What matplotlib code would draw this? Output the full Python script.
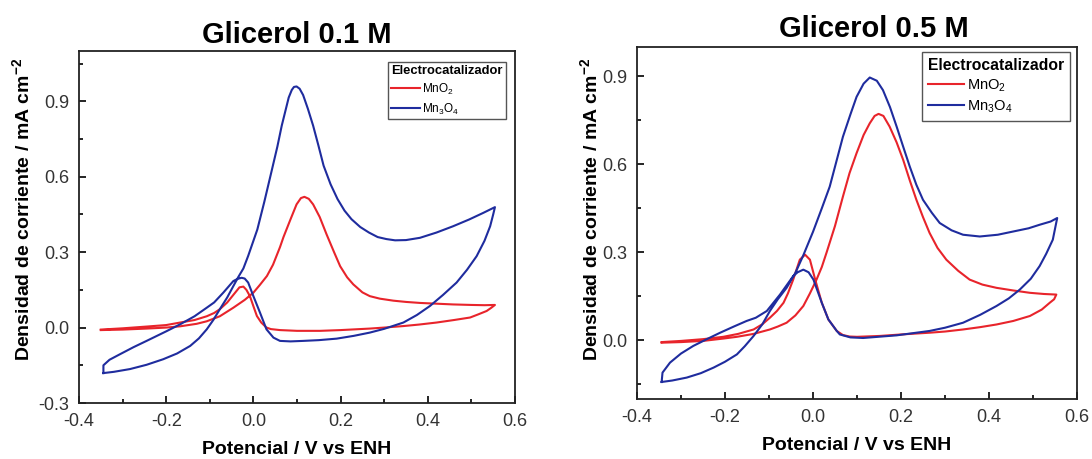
import matplotlib
matplotlib.use("Agg")
import matplotlib.pyplot as plt
from matplotlib.ticker import MultipleLocator

plt.rcParams['font.family'] = ['Liberation Sans', 'DejaVu Sans']
plt.rcParams['mathtext.fontset'] = 'custom'
plt.rcParams['mathtext.rm'] = 'Liberation Sans'
plt.rcParams['mathtext.bf'] = 'Liberation Sans:bold'

# ---- Glicerol 0.1 M ----
# MnO2 (forward then reverse scan)
x_mno2_01 = [-0.35, -0.30, -0.245, -0.20, -0.168, -0.13, -0.107, -0.077, -0.046, -0.02, 0.0, 0.015,
             0.031, 0.045, 0.061, 0.069, 0.085, 0.099, 0.109, 0.117, 0.127, 0.137, 0.152, 0.168,
             0.185, 0.199, 0.215, 0.229, 0.25, 0.267, 0.29, 0.321, 0.35, 0.382, 0.42, 0.458, 0.5,
             0.53, 0.554,
             0.545, 0.535, 0.515, 0.497, 0.46, 0.42, 0.38, 0.344, 0.3, 0.267, 0.2, 0.153, 0.1, 0.061,
             0.04, 0.03, 0.018, 0.008, 0.0, -0.008, -0.016, -0.023, -0.032, -0.046, -0.06, -0.077,
             -0.09, -0.107, -0.135, -0.168, -0.2, -0.245, -0.3, -0.35]
y_mno2_01 = [-0.01, -0.008, -0.004, 0.0, 0.005, 0.015, 0.025, 0.045, 0.079, 0.11, 0.139, 0.17,
             0.205, 0.25, 0.32, 0.36, 0.43, 0.49, 0.515, 0.52, 0.512, 0.49, 0.44, 0.37,
             0.30, 0.244, 0.2, 0.172, 0.14, 0.125, 0.115, 0.107, 0.102, 0.098, 0.095, 0.092, 0.09,
             0.089, 0.09,
             0.078, 0.066, 0.052, 0.04, 0.03, 0.02, 0.012, 0.006, 0.0, -0.004, -0.01, -0.013, -0.013, -0.01,
             -0.006, 0.0, 0.02, 0.046, 0.085, 0.125, 0.15, 0.163, 0.16, 0.13, 0.1, 0.073,
             0.058, 0.045, 0.03, 0.02, 0.01, 0.004, -0.003, -0.008]

# Mn3O4
x_mn3o4_01 = [-0.344, -0.32, -0.283, -0.245, -0.207, -0.175, -0.145, -0.125, -0.107, -0.092, -0.077,
              -0.06, -0.046, -0.035, -0.023, -0.012, 0.0, 0.009, 0.025, 0.041, 0.055, 0.065, 0.081,
              0.088, 0.093, 0.099, 0.106, 0.114, 0.125, 0.137, 0.149, 0.161, 0.177, 0.193, 0.209, 0.225, 0.245,
              0.265, 0.285, 0.305, 0.325, 0.35, 0.382, 0.42, 0.458, 0.495, 0.527, 0.554,
              0.55, 0.543, 0.53, 0.512, 0.49, 0.466, 0.435, 0.405, 0.375, 0.344, 0.3, 0.267, 0.23,
              0.191, 0.15, 0.114, 0.085, 0.061, 0.046, 0.03, 0.015, 0.0, -0.012, -0.02, -0.027,
              -0.036, -0.046, -0.069, -0.09, -0.107, -0.135, -0.168, -0.2, -0.245, -0.275, -0.306,
              -0.33, -0.344, -0.344]
y_mn3o4_01 = [-0.181, -0.176, -0.165, -0.148, -0.126, -0.103, -0.073, -0.043, -0.007, 0.03, 0.073,
              0.12, 0.165, 0.2, 0.235, 0.285, 0.345, 0.39, 0.5, 0.617, 0.72, 0.803, 0.915,
              0.945, 0.957, 0.959, 0.95, 0.925, 0.87, 0.803, 0.725, 0.644, 0.57, 0.511, 0.465, 0.431, 0.4,
              0.378, 0.36, 0.352, 0.347, 0.348, 0.357, 0.378, 0.403, 0.43, 0.456, 0.479,
              0.45, 0.403, 0.345, 0.284, 0.23, 0.179, 0.13, 0.086, 0.05, 0.02, -0.005, -0.02, -0.033,
              -0.044, -0.05, -0.053, -0.055, -0.053, -0.04, -0.007, 0.06, 0.125, 0.179, 0.195, 0.198,
              0.194, 0.185, 0.139, 0.1, 0.079, 0.045, 0.013, -0.015, -0.053, -0.078, -0.106,
              -0.128, -0.15, -0.181]

# ---- Glicerol 0.5 M ----
x_mno2_05 = [-0.344, -0.3, -0.25, -0.204, -0.173, -0.135, -0.098, -0.08, -0.06, -0.04, -0.022,
             -0.007, 0.008, 0.02, 0.031, 0.05, 0.068, 0.083, 0.099, 0.115, 0.129, 0.14, 0.149,
             0.16, 0.174, 0.19, 0.205, 0.22, 0.235, 0.25, 0.265, 0.283, 0.303, 0.33, 0.356, 0.385,
             0.417, 0.455, 0.493, 0.525, 0.553,
             0.548, 0.538, 0.52, 0.493, 0.455, 0.417, 0.38, 0.341, 0.3, 0.265, 0.2, 0.152, 0.1,
             0.083, 0.068, 0.054, 0.035, 0.02, 0.005, -0.007, -0.018, -0.03, -0.045, -0.057,
             -0.067, -0.082, -0.098, -0.115, -0.135, -0.17, -0.204, -0.25, -0.3, -0.344]
y_mno2_05 = [-0.008, -0.006, -0.002, 0.006, 0.012, 0.022, 0.037, 0.047, 0.06, 0.085, 0.117,
             0.16, 0.207, 0.25, 0.3, 0.39, 0.49, 0.57, 0.638, 0.70, 0.74, 0.765, 0.772,
             0.765, 0.729, 0.675, 0.615, 0.545, 0.479, 0.42, 0.366, 0.315, 0.275, 0.237, 0.207, 0.19,
             0.179, 0.17, 0.162, 0.158, 0.156,
             0.14, 0.128, 0.105, 0.083, 0.066, 0.054, 0.045, 0.037, 0.03, 0.026, 0.02, 0.015, 0.012,
             0.013, 0.018, 0.032, 0.071, 0.128, 0.207, 0.275, 0.292, 0.275, 0.207, 0.16,
             0.128, 0.1, 0.077, 0.055, 0.037, 0.022, 0.012, 0.004, -0.002, -0.006]

x_mn3o4_05 = [-0.344, -0.32, -0.287, -0.255, -0.226, -0.2, -0.173, -0.155, -0.135, -0.115, -0.098,
              -0.08, -0.06, -0.04, -0.022, 0.0, 0.02, 0.038, 0.068, 0.085, 0.099, 0.115, 0.129,
              0.145, 0.159, 0.175, 0.19, 0.205, 0.22, 0.235, 0.25, 0.27, 0.288, 0.315, 0.341,
              0.379, 0.42, 0.455, 0.49, 0.515, 0.54, 0.555,
              0.55, 0.545, 0.53, 0.515, 0.495, 0.47, 0.445, 0.417, 0.38, 0.341, 0.3, 0.265, 0.19,
              0.114, 0.085, 0.061, 0.054, 0.035, 0.02, 0.001, -0.01, -0.022, -0.035, -0.045,
              -0.075, -0.105, -0.13, -0.151, -0.18, -0.211, -0.24, -0.272, -0.3, -0.325, -0.342,
              -0.344]
y_mn3o4_05 = [-0.142, -0.137, -0.127, -0.112, -0.093, -0.073, -0.048, -0.02, 0.015, 0.055, 0.1,
              0.14, 0.179, 0.23, 0.29, 0.37, 0.45, 0.524, 0.694, 0.77, 0.83, 0.875, 0.896,
              0.885, 0.853, 0.795, 0.729, 0.66, 0.592, 0.53, 0.479, 0.435, 0.4, 0.375, 0.36,
              0.354, 0.36, 0.371, 0.382, 0.394, 0.405, 0.417,
              0.38, 0.343, 0.295, 0.253, 0.21, 0.173, 0.143, 0.117, 0.087, 0.06, 0.043, 0.032, 0.017,
              0.008, 0.01, 0.02, 0.032, 0.071, 0.128, 0.207, 0.232, 0.241, 0.232, 0.219,
              0.156, 0.1, 0.077, 0.066, 0.047, 0.026, 0.005, -0.019, -0.045, -0.076, -0.11,
              -0.142]

titles = ["Glicerol 0.1 M", "Glicerol 0.5 M"]
ylims = [(-0.3, 1.1), (-0.2, 1.0)]
red = "#e8242b"
blue = "#1f2c9e"

fig = plt.figure(figsize=(10.92, 4.59), dpi=100)
ax1 = fig.add_axes([79/1092, 56/459, 436/1092, 352/459])
ax2 = fig.add_axes([637/1092, 60/459, 440/1092, 352/459])

ax1.plot(x_mno2_01, y_mno2_01, color=red, lw=1.5, label="MnO$_2$")
ax1.plot(x_mn3o4_01, y_mn3o4_01, color=blue, lw=1.5, label="Mn$_3$O$_4$")
ax2.plot(x_mno2_05, y_mno2_05, color=red, lw=1.5, label="MnO$_2$")
ax2.plot(x_mn3o4_05, y_mn3o4_05, color=blue, lw=1.5, label="Mn$_3$O$_4$")

for ax, t, yl in zip([ax1, ax2], titles, ylims):
    ax.set_xlim(-0.4, 0.6)
    ax.set_ylim(*yl)
    ax.xaxis.set_major_locator(MultipleLocator(0.2))
    ax.xaxis.set_minor_locator(MultipleLocator(0.1))
    ax.yaxis.set_major_locator(MultipleLocator(0.3))
    ax.yaxis.set_minor_locator(MultipleLocator(0.15))
    ax.xaxis.set_major_formatter(plt.FormatStrFormatter("%.1f"))
    ax.yaxis.set_major_formatter(plt.FormatStrFormatter("%.1f"))
    ax.tick_params(which="both", direction="in", labelsize=13, labelcolor="#333333", width=1.2)
    ax.tick_params(which="major", length=5, pad=7)
    ax.tick_params(which="minor", length=3)
    for s in ax.spines.values():
        s.set_linewidth(1.3)
        s.set_color("#222222")
    ax.set_xlabel("Potencial / V vs ENH", fontsize=14, fontweight="bold", labelpad=8)
    ax.set_ylabel("Densidad de corriente / mA cm$^{\\mathbf{-2}}$", fontsize=14, fontweight="bold")

ax1.set_title(titles[0], fontsize=21, fontweight="bold", pad=6)
ax2.set_title(titles[1], fontsize=21, fontweight="bold", pad=7, x=0.539)

ax1.yaxis.set_label_coords(-0.102, 0.55)
ax2.yaxis.set_label_coords(-0.08, 0.54)

leg1 = ax1.legend(title="Electrocatalizador", loc="upper right", bbox_to_anchor=(0.979, 0.969),
                  fontsize=8.5, title_fontproperties={"weight": "bold", "size": 9.4},
                  alignment="left", fancybox=False, edgecolor="#555555", framealpha=1,
                  handlelength=2.4, handletextpad=0.2, borderpad=0.25, labelspacing=0.4,
                  borderaxespad=0)
leg2 = ax2.legend(title="Electrocatalizador", loc="upper right", bbox_to_anchor=(0.984, 0.986),
                  fontsize=10.5, title_fontproperties={"weight": "bold", "size": 11.3},
                  alignment="left", fancybox=False, edgecolor="#555555", framealpha=1,
                  handlelength=2.5, handletextpad=0.2, borderpad=0.4, labelspacing=0.3,
                  borderaxespad=0)
for leg in (leg1, leg2):
    leg.get_frame().set_linewidth(1.0)

fig.savefig("out.png", dpi=100)
